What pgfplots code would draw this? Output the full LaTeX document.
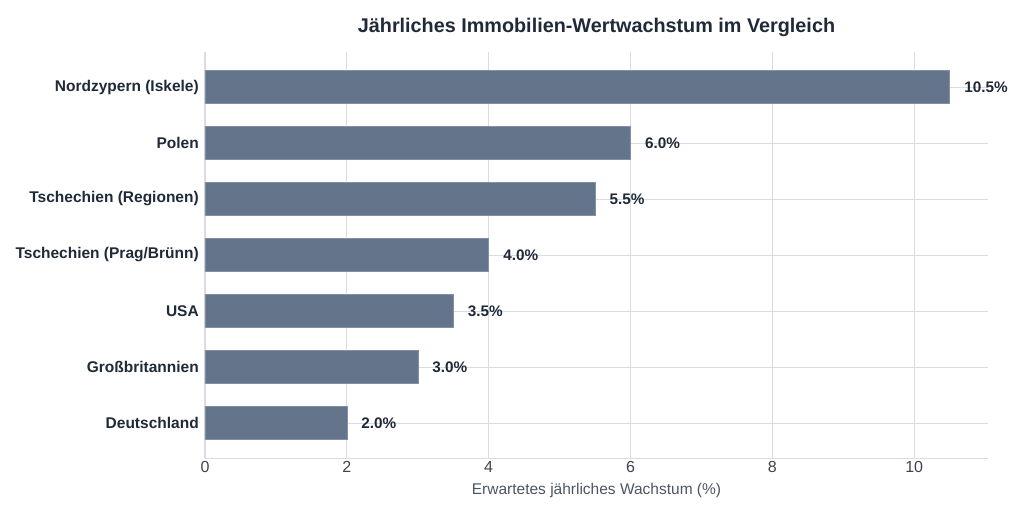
\documentclass[border=0pt]{standalone}
\usepackage{pgfplots}
\pgfplotsset{compat=1.18}
\usepackage{fontspec}
\setmainfont{Liberation Sans}

\definecolor{barcol}{HTML}{64748B}
\definecolor{gridcol}{HTML}{D9DCE1}
\definecolor{txtcol}{HTML}{1F2937}
\definecolor{labcol}{HTML}{4B5563}

\pgfplotstableread{
idx val
0 2.0
1 3.0
2 3.5
3 4.0
4 5.5
5 6.0
6 10.5
}\growth

\begin{document}
\begin{tikzpicture}
\useasboundingbox (-205bp,-54bp) rectangle (819bp,458bp);
\begin{axis}[
    scale only axis,
    width=783bp, height=406bp,
    xbar, bar width=0.59,
    xmin=0, xmax=11.04,
    ymin=-0.625, ymax=6.625,
    xtick={0,2,...,10},
    ytick={0,...,6},
    yticklabels={Deutschland,Großbritannien,USA,Tschechien (Prag/Brünn),Tschechien (Regionen),Polen,Nordzypern (Iskele)},
    yticklabel style={font=\fontsize{15.5bp}{18bp}\selectfont\bfseries, text=txtcol, xshift=1.5bp},
    xticklabel style={font=\fontsize{16bp}{18bp}\selectfont, text=labcol!80!black},
    /pgf/number format/assume math mode=true,
    xmajorgrids, ymajorgrids,
    grid style={gridcol, line width=0.8bp},
    axis x line*=bottom, axis y line*=left,
    axis line style={gridcol, line width=1bp},
    tick style={draw=none},
    xlabel={Erwartetes jährliches Wachstum (\%)},
    xlabel style={font=\fontsize{15.5bp}{18bp}\selectfont, text=labcol, yshift=-4bp},
    title={Jährliches Immobilien-Wertwachstum im Vergleich},
    title style={font=\fontsize{19.8bp}{22bp}\selectfont\bfseries, text=txtcol, yshift=6bp},
    nodes near coords={\pgfmathprintnumber[fixed,fixed zerofill,precision=1]{\pgfplotspointmeta}\%},
    nodes near coords style={font=\fontsize{15.3bp}{18bp}\selectfont\bfseries, text=txtcol, anchor=west, xshift=11bp},
    point meta=explicit,
]
\addplot[fill=barcol, draw=barcol!80!white, line width=0.5bp] table[x=val, y=idx, meta=val] {\growth};
\end{axis}
\end{tikzpicture}
\end{document}
